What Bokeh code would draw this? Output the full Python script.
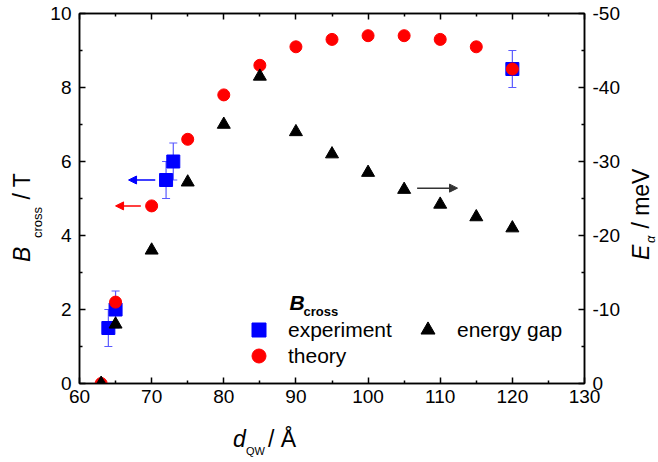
from bokeh.plotting import figure
from bokeh.layouts import row, column
from bokeh.models import (Range1d, LinearAxis, FixedTicker, ColumnDataSource, Whisker,
                          TeeHead, Arrow, NormalHead, Label, Legend, LegendItem,
                          CustomJSTickFormatter, PrintfTickFormatter, Div)
from bokeh.embed import file_html
from bokeh.resources import INLINE

# ---------------- data ----------------
theory_d = [63, 65, 70, 75, 80, 85, 90, 95, 100, 105, 110, 115, 120]
theory_B = [0.0, 2.2, 4.8, 6.6, 7.8, 8.6, 9.1, 9.3, 9.4, 9.4, 9.3, 9.1, 8.5]

exp_d = [64, 65, 72, 73, 120]
exp_B = [1.5, 2.0, 5.5, 6.0, 8.5]
exp_err = [0.5, 0.5, 0.5, 0.5, 0.5]

gap_d = [63, 65, 70, 75, 80, 85, 90, 95, 100, 105, 110, 115, 120]
gap_E = [0.0, -8.0, -18.0, -27.2, -35.0, -41.5, -34.0, -31.0, -28.5, -26.2, -24.2, -22.5, -21.0]

# arrows (start x, end x, y) pointing to the axis of each series
arrow_exp = (70.5, 66.8, 5.5)
arrow_th = (68.5, 65.0, 4.8)
arrow_gap = (106.8, 112.4, -26.4)

x_major = [60, 70, 80, 90, 100, 110, 120, 130]
x_minor = [65, 75, 85, 95, 105, 115, 125]
yl_major = [0, 2, 4, 6, 8, 10]
yl_minor = [1, 3, 5, 7, 9]
yr_major = [0, -10, -20, -30, -40, -50]
yr_minor = [-5, -15, -25, -35, -45]

FONT = "Liberation Sans"

LEFT_W, RIGHT_W, BOTTOM_H = 46, 34, 42
FIG_W, FIG_H = 658 - LEFT_W - RIGHT_W, 462 - BOTTOM_H

p = figure(width=FIG_W, height=FIG_H, x_range=Range1d(60, 130), y_range=Range1d(0, 10),
           output_backend="svg", toolbar_location=None,
           min_border_left=79 - LEFT_W, min_border_right=(658 - RIGHT_W) - 584,
           min_border_top=13, min_border_bottom=FIG_H - 383)
p.extra_y_ranges = {"E": Range1d(0, -50)}
p.grid.visible = False
p.outline_line_color = "black"
p.outline_line_width = 1.5
p.background_fill_color = "white"
p.border_fill_color = "white"


def style_axis(ax, standoff):
    ax.axis_line_width = 1.5
    ax.major_tick_in = 6
    ax.major_tick_out = 0
    ax.minor_tick_in = 3
    ax.minor_tick_out = 0
    ax.major_tick_line_width = 1.5
    ax.minor_tick_line_width = 1.5
    ax.major_label_text_font = FONT
    ax.major_label_text_font_size = "19px"
    ax.major_label_text_color = "black"
    ax.major_label_standoff = standoff


xb = p.xaxis[0]
xb.ticker = FixedTicker(ticks=x_major, minor_ticks=x_minor)
xb.formatter = PrintfTickFormatter(format="%d")
style_axis(xb, 6)

yl = p.yaxis[0]
yl.ticker = FixedTicker(ticks=yl_major, minor_ticks=yl_minor)
yl.formatter = PrintfTickFormatter(format="%d")
style_axis(yl, 8)

yr = LinearAxis(y_range_name="E", ticker=FixedTicker(ticks=yr_major, minor_ticks=yr_minor),
                formatter=PrintfTickFormatter(format="%d"))
style_axis(yr, 8)
p.add_layout(yr, "right")

xt = LinearAxis(ticker=FixedTicker(ticks=x_major, minor_ticks=x_minor),
                formatter=CustomJSTickFormatter(code="return ''"))
style_axis(xt, 0)
xt.major_label_text_font_size = "1px"
p.add_layout(xt, "above")

# ---------------- glyphs ----------------
src_exp = ColumnDataSource(dict(d=exp_d, B=exp_B,
                                lo=[b - e for b, e in zip(exp_B, exp_err)],
                                hi=[b + e for b, e in zip(exp_B, exp_err)]))
src_th = ColumnDataSource(dict(d=theory_d, B=theory_B))
src_gap = ColumnDataSource(dict(d=gap_d, E=gap_E))

wh = Whisker(source=src_exp, base="d", lower="lo", upper="hi",
             line_color="#5a5aff", line_width=1.2,
             upper_head=TeeHead(size=8, line_color="#5a5aff", line_width=1.2),
             lower_head=TeeHead(size=8, line_color="#5a5aff", line_width=1.2))
p.add_layout(wh)

r_exp = p.scatter("d", "B", source=src_exp, marker="square", size=13,
                  fill_color="#0000ff", line_color="#0000ff")
r_th = p.scatter("d", "B", source=src_th, marker="circle", size=12,
                 fill_color="#ff0000", line_color="#ff0000")
r_gap = p.scatter("d", "E", source=src_gap, marker="triangle", size=13, y_range_name="E",
                  fill_color="black", line_color="black")

# arrows
p.add_layout(Arrow(x_start=arrow_exp[0], x_end=arrow_exp[1], y_start=arrow_exp[2], y_end=arrow_exp[2],
                   line_color="#0000ff", line_width=1.5,
                   end=NormalHead(size=8, fill_color="#0000ff", line_color="#0000ff")))
p.add_layout(Arrow(x_start=arrow_th[0], x_end=arrow_th[1], y_start=arrow_th[2], y_end=arrow_th[2],
                   line_color="#ff0000", line_width=1.5,
                   end=NormalHead(size=8, fill_color="#ff0000", line_color="#ff0000")))
p.add_layout(Arrow(x_start=arrow_gap[0], x_end=arrow_gap[1], y_start=arrow_gap[2], y_end=arrow_gap[2],
                   y_range_name="E", line_color="#333333", line_width=1.5,
                   end=NormalHead(size=8, fill_color="#333333", line_color="#333333")))

# ---------------- legends ----------------
common = dict(glyph_width=35, glyph_height=35, label_standoff=12, padding=0, margin=0,
              border_line_color=None, background_fill_alpha=0,
              label_text_font=FONT, label_text_font_size="21px", label_text_color="black")
p.add_layout(Legend(items=[LegendItem(label="experiment", renderers=[r_exp])],
                    location=(162, 36), **common))
p.add_layout(Legend(items=[LegendItem(label="theory", renderers=[r_th])],
                    location=(162, 10), **common))
p.add_layout(Legend(items=[LegendItem(label="energy gap", renderers=[r_gap])],
                    location=(331, 36), **common))


def lab(text, x, y, size, style="normal"):
    p.add_layout(Label(x=x, y=y, x_units="screen", y_units="screen", text=text,
                       text_font=FONT, text_font_size=size, text_font_style=style,
                       text_color="black", text_align="left", text_baseline="alphabetic"))


# legend title
lab("B", 210, 81, "21px", "bold italic")
lab("cross", 224, 72, "13px", "bold")


# ---------------- axis titles (HTML text around the figure) ----------------
def span(text, left, top, size, style="normal", rotate=True):
    rot = "transform:rotate(-90deg);transform-origin:left top;" if rotate else ""
    return (f'<span style="position:absolute;left:{left}px;top:{top}px;{rot}'
            f'font-family:\'{FONT}\';font-size:{size}px;font-style:{style};line-height:1;'
            f'white-space:nowrap;color:black;margin:0;padding:0;">{text}</span>')


def box(w, h, inner):
    return f'<div style="position:relative;width:{w}px;height:{h}px;margin:0;padding:0;">{inner}</div>'


left_html = box(LEFT_W, 462,
                span("B", 10.5, 262, 23, "italic") +
                span("cross", 31, 238, 13) +
                span("&nbsp;/ T", 10.5, 206, 23))
right_html = box(RIGHT_W, 462,
                 span("E", 649 - 624 - 19.5, 260, 23, "italic") +
                 span("α", 655 - 624 - 11, 243, 13, "italic") +
                 span("&nbsp;/ meV", 649 - 624 - 19.5, 235, 23))
bottom_html = box(FIG_W, BOTTOM_H,
                  span("d", 233 - LEFT_W, 447 - 420 - 19.5, 23, "italic", False) +
                  span("QW", 246 - LEFT_W, 455 - 420 - 9.3, 11, "normal", False) +
                  span("/ Å", 268 - LEFT_W, 447 - 420 - 19.5, 23, "normal", False))

div_left = Div(text=left_html, width=LEFT_W, height=462, margin=0)
div_right = Div(text=right_html, width=RIGHT_W, height=462, margin=0)
div_bottom = Div(text=bottom_html, width=FIG_W, height=BOTTOM_H, margin=0)

layout = row(div_left, column(p, div_bottom, spacing=0), div_right, spacing=0)

open("out.html", "w").write(file_html(layout, INLINE))
